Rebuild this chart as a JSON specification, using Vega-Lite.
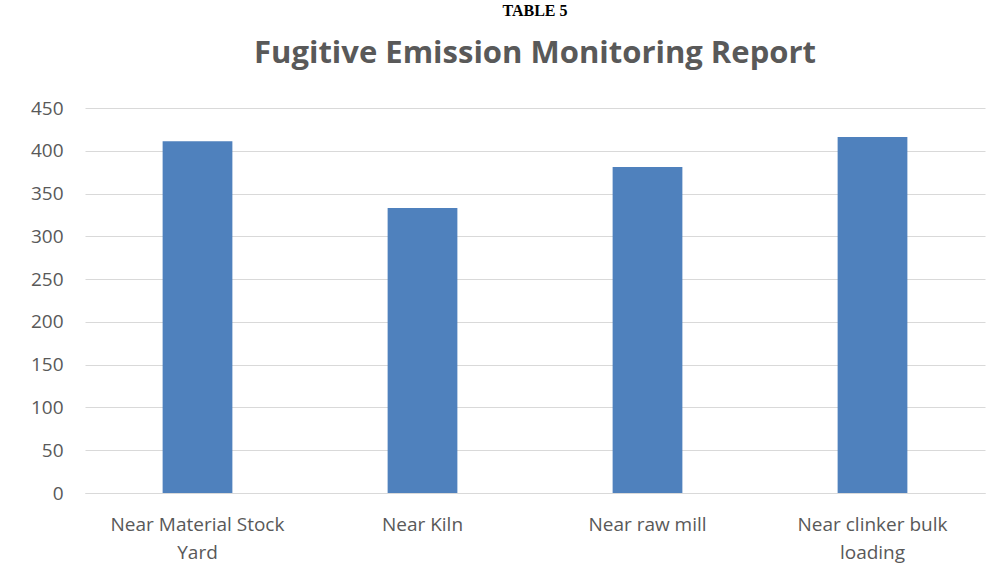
{
  "$schema": "https://vega.github.io/schema/vega-lite/v6.json",
  "autosize": "none",
  "width": 900,
  "height": 385,
  "padding": {"left": 85, "top": 108, "right": 23, "bottom": 89},
  "background": "white",
  "title": {
    "text": "TABLE 5",
    "subtitle": "Fugitive Emission Monitoring Report",
    "font": "Liberation Serif",
    "fontSize": 16,
    "fontWeight": "bold",
    "color": "black",
    "subtitleFont": "Open Sans",
    "subtitleFontSize": 31,
    "subtitleFontWeight": "bold",
    "subtitleColor": "#595959",
    "subtitlePadding": 20,
    "anchor": "middle",
    "offset": 30
  },
  "data": {
    "values": [
      {"location": "Near Material Stock Yard", "value": 411},
      {"location": "Near Kiln", "value": 333},
      {"location": "Near raw mill", "value": 381},
      {"location": "Near clinker bulk loading", "value": 416}
    ]
  },
  "mark": {"type": "bar", "color": "#4F81BD"},
  "encoding": {
    "x": {
      "field": "location",
      "type": "nominal",
      "sort": null,
      "title": null,
      "scale": {"paddingInner": 0.69, "paddingOuter": 0.345},
      "axis": {
        "labelAngle": 0,
        "labelFont": "Open Sans",
        "labelFontSize": 19,
        "labelColor": "#595959",
        "labelPadding": 22,
        "labelLineHeight": 28,
        "ticks": false,
        "domainColor": "#D9D9D9",
        "domainWidth": 1,
        "labelExpr": "datum.value == 'Near Material Stock Yard' ? ['Near Material Stock', 'Yard'] : datum.value == 'Near clinker bulk loading' ? ['Near clinker bulk', 'loading'] : datum.value"
      }
    },
    "y": {
      "field": "value",
      "type": "quantitative",
      "title": null,
      "scale": {"domain": [0, 450]},
      "axis": {
        "values": [0, 50, 100, 150, 200, 250, 300, 350, 400, 450],
        "labelFont": "Open Sans",
        "labelFontSize": 19,
        "labelColor": "#595959",
        "labelPadding": 22,
        "ticks": false,
        "domain": false,
        "gridColor": "#D9D9D9",
        "gridWidth": 1
      }
    }
  },
  "config": {"view": {"stroke": null}}
}
